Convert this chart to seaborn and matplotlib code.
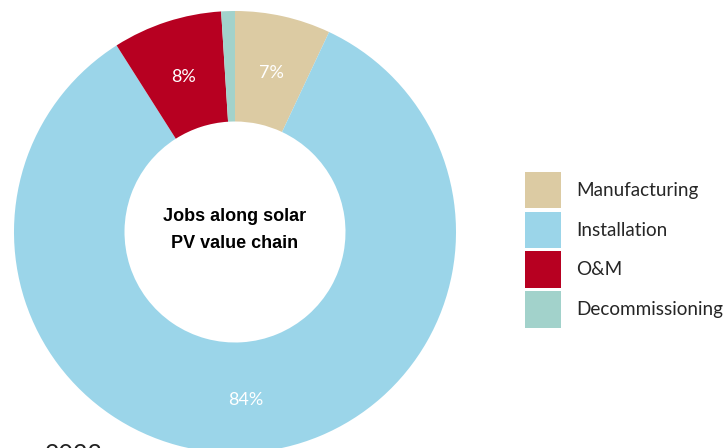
import matplotlib
matplotlib.use("Agg")
import matplotlib.pyplot as plt
from matplotlib.patches import Patch
import numpy as np
import seaborn as sns

# Share of solar PV jobs by value-chain segment (%)
segments = ["Manufacturing", "Installation", "O&M", "Decommissioning"]
shares = [7, 84, 8, 1]
segment_colors = ["#dccba3", "#9bd5e9", "#b70021", "#a2d2cb"]
pct_labels = ["7%", "84%", "8%", ""]
center_title = "Jobs along solar\nPV value chain"
year_label = "2023"

sns.set_theme(style="white")
plt.rcParams["font.family"] = ["Lato", "DejaVu Sans"]

W, H = 726, 448
fig = plt.figure(figsize=(W / 100, H / 100), dpi=100)

# donut centre and outer radius in pixels
cx, cy, r = 235, 232, 221
ax = fig.add_axes([(cx - r) / W, (H - cy - r) / H, 2 * r / W, 2 * r / H])

wedges, texts = ax.pie(
    shares,
    colors=segment_colors,
    startangle=90,
    counterclock=False,
    radius=1.0,
    wedgeprops=dict(width=0.5, linewidth=0),
)
for w, lab in zip(wedges, pct_labels):
    ang = np.deg2rad((w.theta1 + w.theta2) / 2)
    if lab:
        ax.text(0.75 * np.cos(ang), 0.75 * np.sin(ang) - 0.012, lab,
                ha="center", va="center", color="white", fontsize=13,
                fontfamily=["Lato", "DejaVu Sans"])

ax.text(0, 0.009, center_title, ha="center", va="center", fontsize=13,
        fontweight="bold", fontfamily=["Liberation Sans", "DejaVu Sans"],
        color="black", linespacing=1.78)
ax.set_xlim(-1, 1)
ax.set_ylim(-1, 1)
ax.set_aspect("equal")
ax.axis("off")

handles = [Patch(facecolor=c, edgecolor="none") for c in segment_colors]
fig.legend(handles, segments, loc="upper left",
           bbox_to_anchor=(521 / W, 1 - 168 / H), frameon=False,
           fontsize=13.6, handlelength=1.9, handleheight=2.6,
           labelspacing=0.17, handletextpad=0.8, borderaxespad=0,
           borderpad=0.2)

fig.text(45 / W, 1 - 443 / H, year_label, ha="left", va="top", fontsize=18,
         color="#222222")

fig.savefig("out.png", dpi=100)
